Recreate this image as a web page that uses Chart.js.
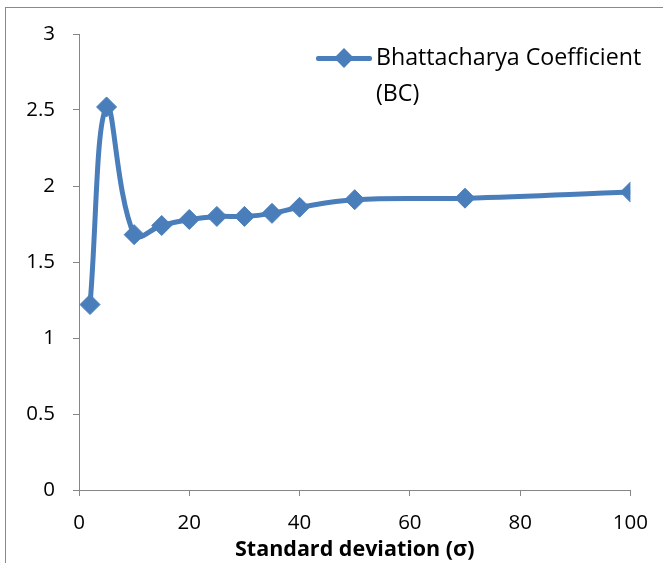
<!DOCTYPE html>
<html>
<head>
<meta charset="utf-8">
<script src="https://cdn.jsdelivr.net/npm/chart.js@4/dist/chart.umd.min.js"></script>
<style>
    body { margin: 0; background: #fff; }
    #wrap { position: relative; width: 663px; height: 563px; overflow: hidden; }
    #frame { position: absolute; left: 5px; top: 7px; width: 700px; height: 600px; border: 1px solid #898989; box-sizing: border-box; }
    #legend { position: absolute; left: 316px; top: 38px; font-family: "Open Sans", sans-serif; font-size: 23.2px; color: #000; }
    #legend .swatch { position: absolute; left: 0; top: 18px; width: 56px; height: 5px; background: #4a7ebb; border-radius: 2px; }
    #legend .dia { position: absolute; left: 21px; top: 13px; width: 14px; height: 14px; background: #4a7ebb; transform: rotate(45deg); }
    #legend .txt { position: absolute; left: 60px; top: 0; line-height: 36px; white-space: nowrap; }
    canvas { position: absolute; left: 0; top: 0; }
</style>
</head>
<body>
<div id="wrap">
    <div id="frame"></div>
    <canvas id="chart" width="663" height="563"></canvas>
    <div id="legend">
        <div class="swatch"></div>
        <div class="dia"></div>
        <div class="txt" id="legend-text"></div>
    </div>
</div>
<script>
const sigmaValues = [2, 5, 10, 15, 20, 25, 30, 35, 40, 50, 70, 100];
const bcValues = [1.22, 2.52, 1.68, 1.74, 1.78, 1.80, 1.80, 1.82, 1.86, 1.91, 1.92, 1.96];
const seriesLabel = ["Bhattacharya Coefficient", "(BC)"];
const xTitle = "Standard deviation (σ)";

document.getElementById("legend-text").innerHTML = seriesLabel.join("<br>");

const blue = '#4a7ebb';
const axisGray = '#868686';
const font = "'Open Sans', sans-serif";

const ctx = document.getElementById('chart').getContext('2d');
new Chart(ctx, {
    type: 'line',
    data: {
        datasets: [{
            label: seriesLabel.join(' '),
            data: sigmaValues.map((x, i) => ({ x: x, y: bcValues[i] })),
            borderColor: blue,
            backgroundColor: blue,
            borderWidth: 5,
            tension: 0.4,
            pointStyle: 'rectRot',
            pointRadius: 10,
            pointBorderWidth: 1,
            pointBackgroundColor: blue,
            pointBorderColor: blue
        }]
    },
    options: {
        responsive: false,
        animation: false,
        layout: { padding: { top: 34, right: 28, left: 0, bottom: 0 } },
        plugins: {
            legend: { display: false },
            tooltip: { enabled: false }
        },
        scales: {
            x: {
                type: 'linear',
                min: 0,
                max: 100,
                ticks: { stepSize: 20, color: '#000', font: { family: font, size: 20.5 }, padding: 15, callback: v => String(v) },
                grid: { drawOnChartArea: false, tickLength: 6, color: axisGray },
                border: { color: axisGray, width: 1 },
                title: { display: true, text: xTitle, color: '#000', font: { family: font, size: 21.5, weight: 'bold' }, padding: { top: -9, bottom: 0 } },
                afterFit: scale => { scale.height = 73; }
            },
            y: {
                min: 0,
                max: 3,
                ticks: { stepSize: 0.5, color: '#000', font: { family: font, size: 20.5 }, padding: 18, callback: v => String(v) },
                grid: { drawOnChartArea: false, tickLength: 6, color: axisGray },
                border: { color: axisGray, width: 1 },
                afterFit: scale => { scale.width = 79; }
            }
        }
    }
});
</script>
</body>
</html>
